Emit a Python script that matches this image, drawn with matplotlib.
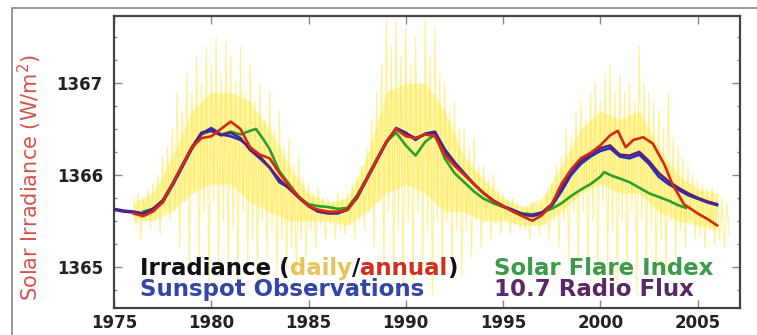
import numpy as np
import matplotlib
matplotlib.use("Agg")
import matplotlib.pyplot as plt
from matplotlib.ticker import MultipleLocator
from matplotlib.patches import Rectangle

# daily irradiance spread: spike tops / bottoms every quarter year from 1976.0
daily_hi = [
    1365.75, 1365.8, 1365.75, 1365.85,
    1365.9, 1366.0, 1366.2, 1366.3,
    1366.5, 1366.9, 1366.7, 1367.1,
    1366.9, 1367.3, 1367.0, 1367.4,
    1367.2, 1367.5, 1367.1, 1367.45,
    1367.3, 1367.0, 1367.4, 1366.9,
    1367.2, 1366.8, 1367.0, 1366.6,
    1366.9, 1366.5, 1366.7, 1366.3,
    1366.4, 1366.1, 1366.2, 1365.95,
    1365.9, 1365.8, 1365.85, 1365.75,
    1365.75, 1365.7, 1365.8, 1365.75,
    1365.8, 1365.9, 1365.95, 1366.1,
    1366.3, 1366.6, 1366.9, 1367.2,
    1367.7, 1367.4, 1367.7, 1367.3,
    1367.6, 1367.2, 1367.5, 1367.0,
    1367.7, 1367.3, 1367.6, 1367.1,
    1367.0, 1366.7, 1366.8, 1366.5,
    1366.5, 1366.3, 1366.4, 1366.1,
    1366.1, 1365.95, 1366.0, 1365.85,
    1365.8, 1365.75, 1365.75, 1365.7,
    1365.65, 1365.65, 1365.7, 1365.65,
    1365.7, 1365.8, 1365.9, 1366.1,
    1366.2, 1366.5, 1366.4, 1366.7,
    1366.8, 1366.6, 1366.9, 1367.0,
    1366.8, 1367.1, 1367.2, 1366.9,
    1367.1, 1366.9, 1367.0, 1366.8,
    1367.4, 1367.0, 1366.9, 1366.8,
    1366.7, 1366.5, 1366.9, 1366.4,
    1366.3, 1366.2, 1366.1, 1366.0,
    1365.95, 1365.9, 1365.85, 1365.85,
    1365.8, 1365.75, 1365.7,
]
daily_lo = [
    1365.45, 1365.3, 1365.5, 1365.4,
    1365.5, 1365.35, 1365.6, 1365.5,
    1365.6, 1365.2, 1365.7, 1365.0,
    1365.8, 1365.1, 1365.6, 1364.8,
    1365.7, 1365.0, 1365.5, 1364.9,
    1365.4, 1364.7, 1365.6, 1365.0,
    1365.3, 1364.8, 1365.5, 1365.1,
    1365.4, 1364.9, 1365.3, 1365.0,
    1365.2, 1364.9, 1365.3, 1365.1,
    1365.4, 1365.2, 1365.45, 1365.3,
    1365.45, 1365.3, 1365.4, 1365.35,
    1365.45, 1365.3, 1365.5, 1365.4,
    1365.6, 1365.2, 1365.7, 1365.0,
    1365.6, 1364.9, 1365.4, 1364.7,
    1365.5, 1364.8, 1365.6, 1365.0,
    1365.4, 1364.7, 1365.5, 1364.9,
    1365.5, 1365.0, 1365.4, 1364.9,
    1365.4, 1365.1, 1365.5, 1365.2,
    1365.5, 1365.3, 1365.45, 1365.35,
    1365.5, 1365.35, 1365.45, 1365.4,
    1365.4, 1365.3, 1365.45, 1365.35,
    1365.45, 1365.3, 1365.5, 1365.2,
    1365.5, 1365.1, 1365.6, 1365.0,
    1365.6, 1364.9, 1365.5, 1364.8,
    1365.7, 1365.0, 1365.4, 1364.8,
    1365.5, 1364.9, 1365.6, 1364.7,
    1365.5, 1365.0, 1365.4, 1364.9,
    1365.3, 1364.9, 1365.5, 1365.1,
    1365.4, 1365.2, 1365.5, 1365.3,
    1365.35, 1365.2, 1365.4, 1365.25,
    1365.3, 1365.2, 1365.35,
]

# bright core of the daily band, one value per year 1976..2006
core_hi = [1365.7, 1365.8, 1366.2, 1366.7, 1366.9, 1366.9, 1366.8, 1366.5,
           1366.1, 1365.8, 1365.7, 1365.75, 1366.2, 1366.9, 1367.0, 1367.0,
           1366.7, 1366.2, 1365.95, 1365.75, 1365.65, 1365.75, 1366.1, 1366.5,
           1366.7, 1366.6, 1366.7, 1366.3, 1366.0, 1365.85, 1365.8]
core_lo = [1365.5, 1365.5, 1365.6, 1365.8, 1365.9, 1365.9, 1365.7, 1365.6,
           1365.5, 1365.5, 1365.5, 1365.45, 1365.6, 1365.8, 1365.9, 1365.8,
           1365.6, 1365.6, 1365.5, 1365.5, 1365.45, 1365.45, 1365.6, 1365.8,
           1365.9, 1365.8, 1365.8, 1365.6, 1365.5, 1365.45, 1365.4]

# annual irradiance (red)
red_years = [1976.0, 1976.5, 1977.0, 1977.5, 1978.0, 1978.5, 1979.0, 1979.5,
             1980.0, 1980.5, 1981.0, 1981.5, 1982.0, 1982.5, 1983.0, 1983.5,
             1984.0, 1984.5, 1985.0, 1985.5, 1986.0, 1986.5, 1987.0, 1987.5,
             1988.0, 1988.5, 1989.0, 1989.5, 1990.0, 1990.5, 1991.0, 1991.5,
             1992.0, 1992.5, 1993.0, 1993.5, 1994.0, 1994.5, 1995.0, 1995.5,
             1996.0, 1996.5, 1997.0, 1997.5, 1998.0, 1998.5, 1999.0, 1999.5,
             2000.0, 2000.5, 2000.9, 2001.3, 2001.7, 2002.2, 2002.7, 2003.3,
             2003.7, 2004.3, 2005.0, 2005.5, 2006.0]
red_vals = [1365.58, 1365.55, 1365.60, 1365.70, 1365.90, 1366.10, 1366.30, 1366.40,
            1366.42, 1366.50, 1366.58, 1366.50, 1366.30, 1366.22, 1366.18, 1366.02,
            1365.88, 1365.76, 1365.66, 1365.62, 1365.60, 1365.60, 1365.62, 1365.76,
            1365.96, 1366.16, 1366.36, 1366.50, 1366.42, 1366.40, 1366.44, 1366.42,
            1366.22, 1366.10, 1366.00, 1365.90, 1365.80, 1365.72, 1365.66, 1365.60,
            1365.55, 1365.50, 1365.56, 1365.68, 1365.90, 1366.06, 1366.18, 1366.24,
            1366.32, 1366.43, 1366.48, 1366.30, 1366.38, 1366.41, 1366.34, 1366.11,
            1365.90, 1365.68, 1365.58, 1365.52, 1365.45]

# sunspot model (blue) and 10.7 cm radio flux model (purple), half-year steps
proxy_years = np.arange(1975.0, 2006.01, 0.5)
sunspot_vals = [1365.63, 1365.61, 1365.60, 1365.58, 1365.62, 1365.70, 1365.88, 1366.08,
                1366.28, 1366.45, 1366.51, 1366.44, 1366.42, 1366.38, 1366.30, 1366.20,
                1366.08, 1365.92, 1365.86, 1365.76, 1365.66, 1365.60, 1365.59, 1365.59,
                1365.62, 1365.75, 1365.95, 1366.15, 1366.35, 1366.51, 1366.46, 1366.38,
                1366.45, 1366.47, 1366.28, 1366.14, 1366.02, 1365.90, 1365.80, 1365.72,
                1365.66, 1365.62, 1365.57, 1365.55, 1365.58, 1365.66, 1365.82, 1366.00,
                1366.12, 1366.20, 1366.26, 1366.29, 1366.20, 1366.18, 1366.22, 1366.12,
                1365.98, 1365.90, 1365.84, 1365.78, 1365.74, 1365.70, 1365.67]
radio_vals = [1365.62, 1365.60, 1365.59, 1365.58, 1365.63, 1365.72, 1365.90, 1366.10,
              1366.30, 1366.46, 1366.48, 1366.43, 1366.46, 1366.40, 1366.27, 1366.18,
              1366.08, 1365.95, 1365.85, 1365.75, 1365.66, 1365.60, 1365.58, 1365.58,
              1365.62, 1365.76, 1365.96, 1366.16, 1366.36, 1366.50, 1366.45, 1366.40,
              1366.44, 1366.46, 1366.26, 1366.13, 1366.01, 1365.90, 1365.80, 1365.72,
              1365.66, 1365.61, 1365.57, 1365.56, 1365.59, 1365.68, 1365.86, 1366.04,
              1366.15, 1366.23, 1366.29, 1366.32, 1366.22, 1366.21, 1366.25, 1366.15,
              1366.02, 1365.93, 1365.86, 1365.80, 1365.75, 1365.71, 1365.68]

# solar flare index model (green)
flare_years = [1976.5, 1977.0, 1977.5, 1978.0, 1978.5, 1979.0, 1979.5, 1980.0,
               1980.5, 1981.0, 1981.5, 1982.0, 1982.3, 1982.7, 1983.0, 1983.5,
               1984.0, 1984.5, 1985.0, 1985.5, 1986.0, 1986.5, 1987.0, 1987.5,
               1988.0, 1988.5, 1989.0, 1989.5, 1990.0, 1990.5, 1991.0, 1991.5,
               1992.0, 1992.5, 1993.0, 1993.5, 1994.0, 1994.5, 1995.0, 1995.5,
               1996.0, 1996.5, 1997.0, 1997.5, 1998.0, 1998.5, 1999.0, 1999.5,
               2000.0, 2000.2, 2000.6, 2001.0, 2001.5, 2002.0, 2002.5, 2003.0,
               2003.5, 2004.0, 2004.4]
flare_vals = [1365.60, 1365.63, 1365.72, 1365.90, 1366.10, 1366.30, 1366.44, 1366.48,
              1366.44, 1366.47, 1366.44, 1366.48, 1366.50, 1366.38, 1366.28, 1366.04,
              1365.90, 1365.76, 1365.68, 1365.66, 1365.65, 1365.63, 1365.64, 1365.78,
              1365.97, 1366.17, 1366.36, 1366.46, 1366.32, 1366.21, 1366.36, 1366.44,
              1366.18, 1366.02, 1365.92, 1365.82, 1365.74, 1365.69, 1365.65, 1365.61,
              1365.58, 1365.57, 1365.59, 1365.63, 1365.69, 1365.77, 1365.84, 1365.90,
              1365.98, 1366.03, 1365.99, 1365.96, 1365.92, 1365.86, 1365.80, 1365.76,
              1365.72, 1365.67, 1365.64]

year_ticks = [1975, 1980, 1985, 1990, 1995, 2000, 2005]

fig = plt.figure(figsize=(7.57, 3.35), dpi=100)
fig.patch.set_facecolor("white")
ax = fig.add_axes([114 / 757, 27 / 335, 626 / 757, 292 / 335])

# daily data: zigzag between spike tops and bottoms
t_hi = 1976.0 + 0.25 * np.arange(len(daily_hi))
t_lo = t_hi + 0.125
t_daily = np.empty(2 * len(t_hi))
v_daily = np.empty(2 * len(t_hi))
t_daily[0::2], t_daily[1::2] = t_hi, t_lo
v_daily[0::2], v_daily[1::2] = daily_hi, daily_lo
core_years = np.arange(1976, 1976 + len(core_hi))
ax.fill_between(core_years, core_lo, core_hi, color="#ffe82a", alpha=0.38,
                lw=0, zorder=1)
ax.plot(t_daily, v_daily, color="#ffe000", lw=0.8, alpha=0.42, zorder=1)

ax.plot(flare_years, flare_vals, color="#2ca02c", lw=1.9, zorder=3)
ax.plot(proxy_years, sunspot_vals, color="#2233bb", lw=1.9, zorder=4)
ax.plot(proxy_years, radio_vals, color="#5b1f7a", lw=1.9, zorder=5)
ax.plot(red_years, red_vals, color="#d42a10", lw=1.9, zorder=6)

ax.set_xlim(1975, 2007.18)
ax.set_ylim(1364.55, 1367.73)
ax.set_xticks(year_ticks)
ax.yaxis.set_major_locator(MultipleLocator(1))
ax.yaxis.set_minor_locator(MultipleLocator(0.25))
ax.tick_params(which="both", direction="in", top=True, right=True,
               color="#888888", width=1)
ax.tick_params(which="major", length=6, labelsize=12,
               labelcolor="#222222")
ax.tick_params(axis="y", which="major", pad=8)
ax.tick_params(axis="x", which="major", pad=4)
for lab in ax.get_xticklabels() + ax.get_yticklabels():
    lab.set_fontweight("bold")
for sp in ax.spines.values():
    sp.set_color("#444444")
    sp.set_linewidth(1.6)

fig.text(30 / 757, 1 - 178 / 335, "Solar Irradiance (W/m$^2$)", rotation=90,
         ha="center", va="center", fontsize=15, color="#d9534a")

# outer frame around the panel
fig.patches.append(Rectangle((12 / 757, -0.1), 1.1, 1.1 - 8 / 335,
                             transform=fig.transFigure, fill=False,
                             edgecolor="#888888", lw=1.2))

# coloured legend text
kw = dict(fontsize=16.5, fontweight="bold")
t = fig.text(140 / 757, 1 - 275 / 335, "Irradiance (", color="#111111",
             va="baseline", **kw)
for piece, col in [("daily", "#e8c35a"), ("/", "#111111"),
                   ("annual", "#d0301c"), (")", "#111111")]:
    t = ax.annotate(piece, xy=(1, 0), xycoords=t, va="bottom", color=col,
                    annotation_clip=False, **kw)
fig.text(140 / 757, 1 - 296 / 335, "Sunspot Observations", color="#3346a8",
         va="baseline", **kw)
fig.text(494 / 757, 1 - 275 / 335, "Solar Flare Index", color="#3c9a48",
         va="baseline", **kw)
fig.text(494 / 757, 1 - 296 / 335, "10.7 Radio Flux", color="#5a2868",
         va="baseline", **kw)

fig.savefig("out.png", dpi=100)
